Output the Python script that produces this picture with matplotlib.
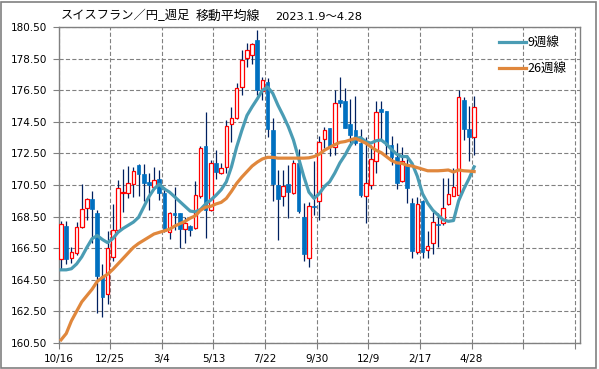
import numpy as np
import matplotlib.pyplot as plt
from matplotlib.patches import Rectangle

plt.rcParams['font.family'] = ['Noto Sans CJK JP', 'DejaVu Sans']
plt.rcParams['lines.scale_dashes'] = False

# weekly candles (open, high, low, close), oldest first
opens = [165.80, 167.90, 165.85, 166.20, 167.87, 169.05, 169.60, 168.75, 164.75, 163.60,
         165.97, 167.66, 169.97, 170.02, 170.54, 171.74, 171.19, 170.67, 170.39, 170.88,
         169.97, 167.55, 168.73, 168.73, 167.74, 167.91, 167.75, 169.80, 172.96, 168.92,
         171.87, 171.24, 171.62, 174.33, 174.77, 176.71, 178.56, 178.75, 179.70, 176.46,
         177.03, 173.97, 170.50, 169.80, 170.56, 169.97, 171.87, 168.46, 165.87, 169.17,
         169.51, 173.38, 174.08, 172.88, 175.87, 175.83, 174.35, 173.97, 173.13, 169.83,
         170.50, 172.04, 175.30, 175.17, 173.01, 172.29, 170.77, 171.76, 169.34, 166.23,
         169.51, 166.39, 166.82, 168.04, 168.08, 169.30, 169.83, 169.87, 175.91, 174.06,
         173.55]
highs = [168.20, 168.25, 166.60, 168.15, 170.55, 169.70, 170.15, 168.92, 165.50, 167.60,
         169.28, 170.82, 171.49, 171.70, 171.66, 171.80, 171.80, 171.28, 171.66, 171.45,
         170.40, 168.80, 170.40, 168.75, 168.50, 167.95, 170.75, 172.95, 175.13, 172.08,
         172.71, 171.87, 174.61, 175.41, 176.96, 179.03, 179.49, 179.50, 180.30, 177.34,
         177.28, 174.77, 171.45, 171.45, 171.76, 172.08, 172.75, 169.34, 169.45, 172.00,
         173.60, 174.18, 174.10, 176.54, 177.34, 176.61, 175.97, 176.12, 174.02, 173.55,
         173.03, 175.83, 175.83, 175.20, 173.60, 173.17, 172.88, 172.39, 169.66, 169.76,
         169.55, 167.59, 168.82, 168.75, 170.96, 170.96, 171.55, 176.50, 176.08, 175.49,
         176.12]
lows = [165.20, 165.50, 165.55, 166.08, 167.75, 168.30, 166.80, 162.40, 162.15, 163.00,
        165.66, 167.60, 168.82, 169.70, 169.76, 169.83, 169.50, 168.92, 170.23, 169.55,
        167.55, 167.07, 167.66, 166.50, 166.80, 167.28, 167.70, 169.70, 167.13, 168.85,
        170.86, 171.20, 171.28, 173.24, 174.65, 176.18, 177.97, 178.18, 176.18, 175.87,
        173.55, 169.51, 167.03, 169.17, 168.40, 169.90, 168.75, 165.66, 165.34, 168.60,
        168.29, 172.82, 172.33, 172.39, 175.45, 174.08, 173.13, 173.03, 169.76, 168.08,
        170.23, 171.28, 173.34, 172.33, 171.76, 170.23, 170.70, 169.34, 165.87, 166.14,
        165.87, 165.87, 166.14, 166.56, 167.97, 169.25, 169.80, 169.85, 173.34, 172.04,
        172.39]
closes = [168.00, 165.80, 166.25, 167.87, 168.96, 169.60, 168.96, 164.75, 163.38, 166.50,
          167.66, 170.29, 170.06, 170.60, 171.36, 171.17, 170.65, 170.52, 170.82, 169.97,
          167.59, 168.71, 168.58, 167.74, 168.08, 167.64, 169.87, 172.82, 168.92, 171.87,
          171.34, 171.55, 174.25, 174.77, 176.67, 178.44, 179.07, 179.45, 176.50, 177.17,
          174.02, 170.56, 169.60, 170.44, 170.08, 171.91, 168.88, 166.14, 169.20, 169.09,
          173.24, 173.97, 172.88, 175.66, 175.70, 174.12, 173.66, 173.13, 169.87, 170.60,
          172.12, 175.13, 175.13, 173.03, 172.29, 170.65, 172.04, 170.29, 166.35, 169.30,
          166.23, 166.67, 168.14, 167.95, 169.07, 169.93, 170.35, 176.04, 174.06, 173.51,
          175.45]

ma9 = [165.13, 165.13, 165.20, 165.50, 165.95, 166.55, 167.10, 167.30, 167.05, 166.85,
       167.10, 167.50, 167.75, 167.95, 168.15, 168.45, 169.10, 169.75, 170.25, 170.55,
       170.25, 170.05, 169.75, 169.45, 169.15, 168.85, 168.80, 168.95, 169.30, 169.55,
       169.85, 170.20, 170.70, 171.65, 172.90, 173.95, 174.90, 175.45, 175.95, 176.50,
       176.70, 176.30, 175.55, 174.90, 174.20, 173.35, 172.20, 171.05, 170.05, 169.65,
       169.95, 170.40, 170.70, 171.25, 171.90, 172.40, 173.00, 173.45, 173.50, 173.25,
       173.15, 173.30, 173.35, 173.10, 172.75, 172.45, 172.30, 172.30, 171.85, 171.05,
       169.95, 169.35, 168.90, 168.60, 168.30, 168.20, 168.25, 169.50, 170.25, 170.90,
       171.65]
ma26 = [160.70, 161.10, 161.90, 162.50, 163.10, 163.50, 163.90, 164.40, 164.65, 164.85,
        165.15, 165.50, 165.85, 166.20, 166.55, 166.80, 167.00, 167.20, 167.40, 167.50,
        167.60, 167.70, 167.90, 168.05, 168.20, 168.40, 168.55, 168.90, 169.10, 169.15,
        169.30, 169.40, 169.65, 170.10, 170.60, 171.00, 171.35, 171.70, 171.95, 172.15,
        172.25, 172.25, 172.20, 172.20, 172.20, 172.20, 172.20, 172.20, 172.22, 172.30,
        172.45, 172.70, 172.88, 173.05, 173.20, 173.25, 173.35, 173.45, 173.30, 173.15,
        172.92, 172.70, 172.55, 172.30, 172.05, 171.90, 171.87, 171.75, 171.70, 171.60,
        171.50, 171.40, 171.40, 171.40, 171.42, 171.45, 171.32, 171.45, 171.40, 171.38,
        171.35]

date_labels = ['10/16', '12/25', '3/4', '5/13', '7/22', '9/30', '12/9', '2/17', '4/28', '', '']

o = np.array(opens)
h = np.array(highs)
l = np.array(lows)
c = np.array(closes)
x = np.arange(len(o)) + 0.5
up = c >= o

fig = plt.figure(figsize=(5.99, 3.69), dpi=100)
ax = fig.add_axes([58.5 / 599, 1 - 343 / 369, (580 - 58.5) / 599, (343 - 27) / 369])

ax.vlines(x, l, h, color='#002060', lw=0.9, zorder=2)
ax.bar(x[up], (c - o)[up], bottom=o[up], width=0.7, color='white',
       edgecolor='#FF0000', lw=0.9, zorder=3)
ax.bar(x[~up], (o - c)[~up], bottom=c[~up], width=0.7, color='#0070C0',
       edgecolor='#0070C0', lw=0.5, zorder=3)

ax.plot(x, ma9, color='#4A9CB4', lw=2.3, label='9週線', zorder=4)
ax.plot(x, ma26, color='#E0873C', lw=2.3, label='26週線', zorder=5)

ax.set_xlim(0, 101)
ax.set_ylim(160.5, 180.5)
ax.set_xticks(np.arange(0, 101, 10))
ax.set_xticklabels(date_labels)
yt = np.arange(160.5, 180.6, 2)
ax.set_yticks(yt)
ax.set_yticklabels(['%.2f' % v for v in yt])
for lab in ax.get_xticklabels() + ax.get_yticklabels():
    lab.set_fontfamily('DejaVu Sans')
    lab.set_fontsize(7.5)
ax.tick_params(axis='both', direction='out', length=4, width=0.8, color='#808080', pad=4)
ax.grid(True, color='#808080', lw=0.8, linestyle=(0, (3, 1.6)))
ax.set_axisbelow(True)
for s in ax.spines.values():
    s.set_color('#808080')
    s.set_linewidth(1)

leg = ax.legend(loc='upper left', bbox_to_anchor=(499 / 599, 1 - 36.5 / 369),
                bbox_transform=fig.transFigure, frameon=False, fontsize=9,
                handlelength=2.15, handletextpad=0.15, borderpad=0, borderaxespad=0,
                labelspacing=1.05)

fig.text(61 / 599, 1 - 19.5 / 369, 'スイスフラン／円_週足', fontsize=8.8, va='baseline')
fig.text(196 / 599, 1 - 19.5 / 369, '移動平均線', fontsize=9.3, va='baseline')
fig.text(275 / 599, 1 - 19.5 / 369, '2023.1.9～4.28', fontsize=8.2, va='baseline',
         family=['DejaVu Sans', 'Noto Sans CJK JP'])

fig.add_artist(Rectangle((1 / 599, 1 / 369), 594.5 / 599, 366 / 369, transform=fig.transFigure,
                         fill=False, ec='#808080', lw=1.2))

fig.savefig('out.png', dpi=100)
